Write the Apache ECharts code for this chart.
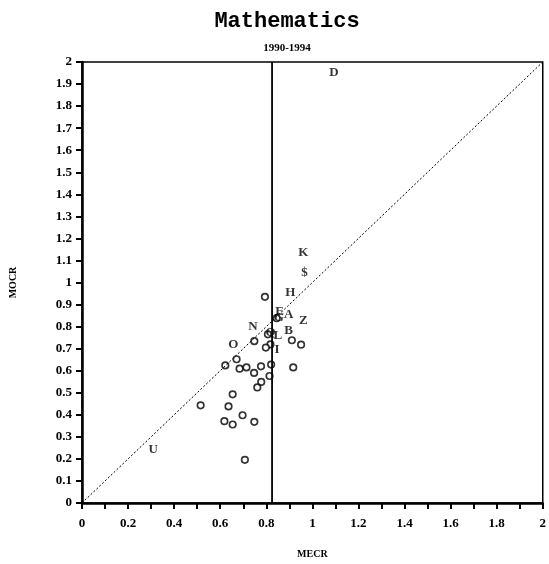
<!DOCTYPE html>
<html>
<head>
<meta charset="utf-8">
<script src="https://cdn.jsdelivr.net/npm/echarts@6/dist/echarts.min.js"></script>
<style>html,body{margin:0;padding:0;background:#fff}#c{width:549px;height:564px}</style>
</head>
<body>
<div id="c"></div>
<script>
// Labelled points: [MECR, MOCR]
const labelNames = ['D','K','$','H','E','G','A','Z','N','B','Q','L','I','O','U'];
const labelX = [1.094,0.961,0.966,0.904,0.858,0.854,0.897,0.961,0.742,0.897,0.818,0.850,0.847,0.657,0.309];
const labelY = [1.950,1.134,1.044,0.956,0.866,0.840,0.855,0.829,0.800,0.780,0.772,0.757,0.697,0.718,0.244];
// Unlabelled points
const circleX = [0.794,0.845,0.807,0.911,0.951,0.748,0.818,0.798,0.671,0.622,0.821,0.684,0.714,0.777,0.747,0.917,0.814,0.778,0.761,0.654,0.515,0.636,0.697,0.618,0.654,0.748,0.707];
const circleY = [0.935,0.838,0.765,0.738,0.718,0.734,0.719,0.705,0.652,0.624,0.628,0.609,0.615,0.620,0.590,0.615,0.576,0.549,0.524,0.493,0.443,0.438,0.398,0.371,0.356,0.368,0.196];
const refMECR = 0.825;
const diagonal = [[0,0],[2,2]];
const titleText = 'Mathematics';
const subText = '1990-1994';

const chart = echarts.init(document.getElementById('c'));
const tickFont = {fontFamily:'Liberation Serif', fontWeight:'bold', fontSize:13, color:'#000'};
chart.setOption({
  animation:false,
  title:[
    {text:titleText, left:282, top:5, textAlign:'center', textStyle:{fontFamily:'Liberation Mono', fontSize:22, fontWeight:'bold', color:'#000'}},
    {text:subText, left:282, top:38, textAlign:'center', textStyle:{fontFamily:'Liberation Serif', fontSize:11, fontWeight:'bold', color:'#000'}}
  ],
  grid:{left:81, right:2, top:62, bottom:60, show:true, borderColor:'#000', borderWidth:1.5, backgroundColor:'transparent'},
  xAxis:{type:'value', min:0, max:2, interval:0.1, name:'MECR', nameLocation:'middle', nameGap:46,
    nameTextStyle:{fontFamily:'Liberation Serif', fontWeight:'bold', fontSize:10, color:'#000'},
    axisLine:{show:true, onZero:false, lineStyle:{color:'#000', width:2.5}},
    axisTick:{show:true, inside:false, length:6, lineStyle:{color:'#000', width:2}},
    axisLabel:{...tickFont, margin:14, formatter:v=>{const k=Math.round(v*10); return k%2===0? String(Math.round(v*10)/10):'';}},
    splitLine:{show:false}},
  yAxis:{type:'value', min:0, max:2, interval:0.1, name:'MOCR', nameLocation:'middle', nameGap:64, nameRotate:90,
    nameTextStyle:{fontFamily:'Liberation Serif', fontWeight:'bold', fontSize:10, color:'#000'},
    axisLine:{show:true, onZero:false, lineStyle:{color:'#000', width:2.5}},
    axisTick:{show:true, inside:false, length:6, lineStyle:{color:'#000', width:2}},
    axisLabel:{...tickFont, margin:10, formatter:v=>String(Math.round(v*10)/10)},
    splitLine:{show:false}},
  series:[
    {type:'line', data:diagonal, symbol:'none', lineStyle:{color:'#000', width:1, type:[2,2]}, silent:true},
    {type:'line', data:[[refMECR,0],[refMECR,2]], symbol:'none', lineStyle:{color:'#000', width:1.8}, silent:true},
    {type:'scatter', data:circleX.map((x,i)=>[x,circleY[i]]), symbol:'circle', symbolSize:6.5,
      itemStyle:{color:'#fff', borderColor:'#000', borderWidth:1.7}},
    {type:'scatter', data:labelX.map((x,i)=>({value:[x,labelY[i]], name:labelNames[i]})), symbolSize:1,
      itemStyle:{color:'transparent'},
      label:{show:true, position:'inside', formatter:p=>p.name, fontFamily:'Liberation Serif', fontWeight:'bold', fontSize:13, color:'#000'}}
  ]
});
</script>
</body>
</html>
